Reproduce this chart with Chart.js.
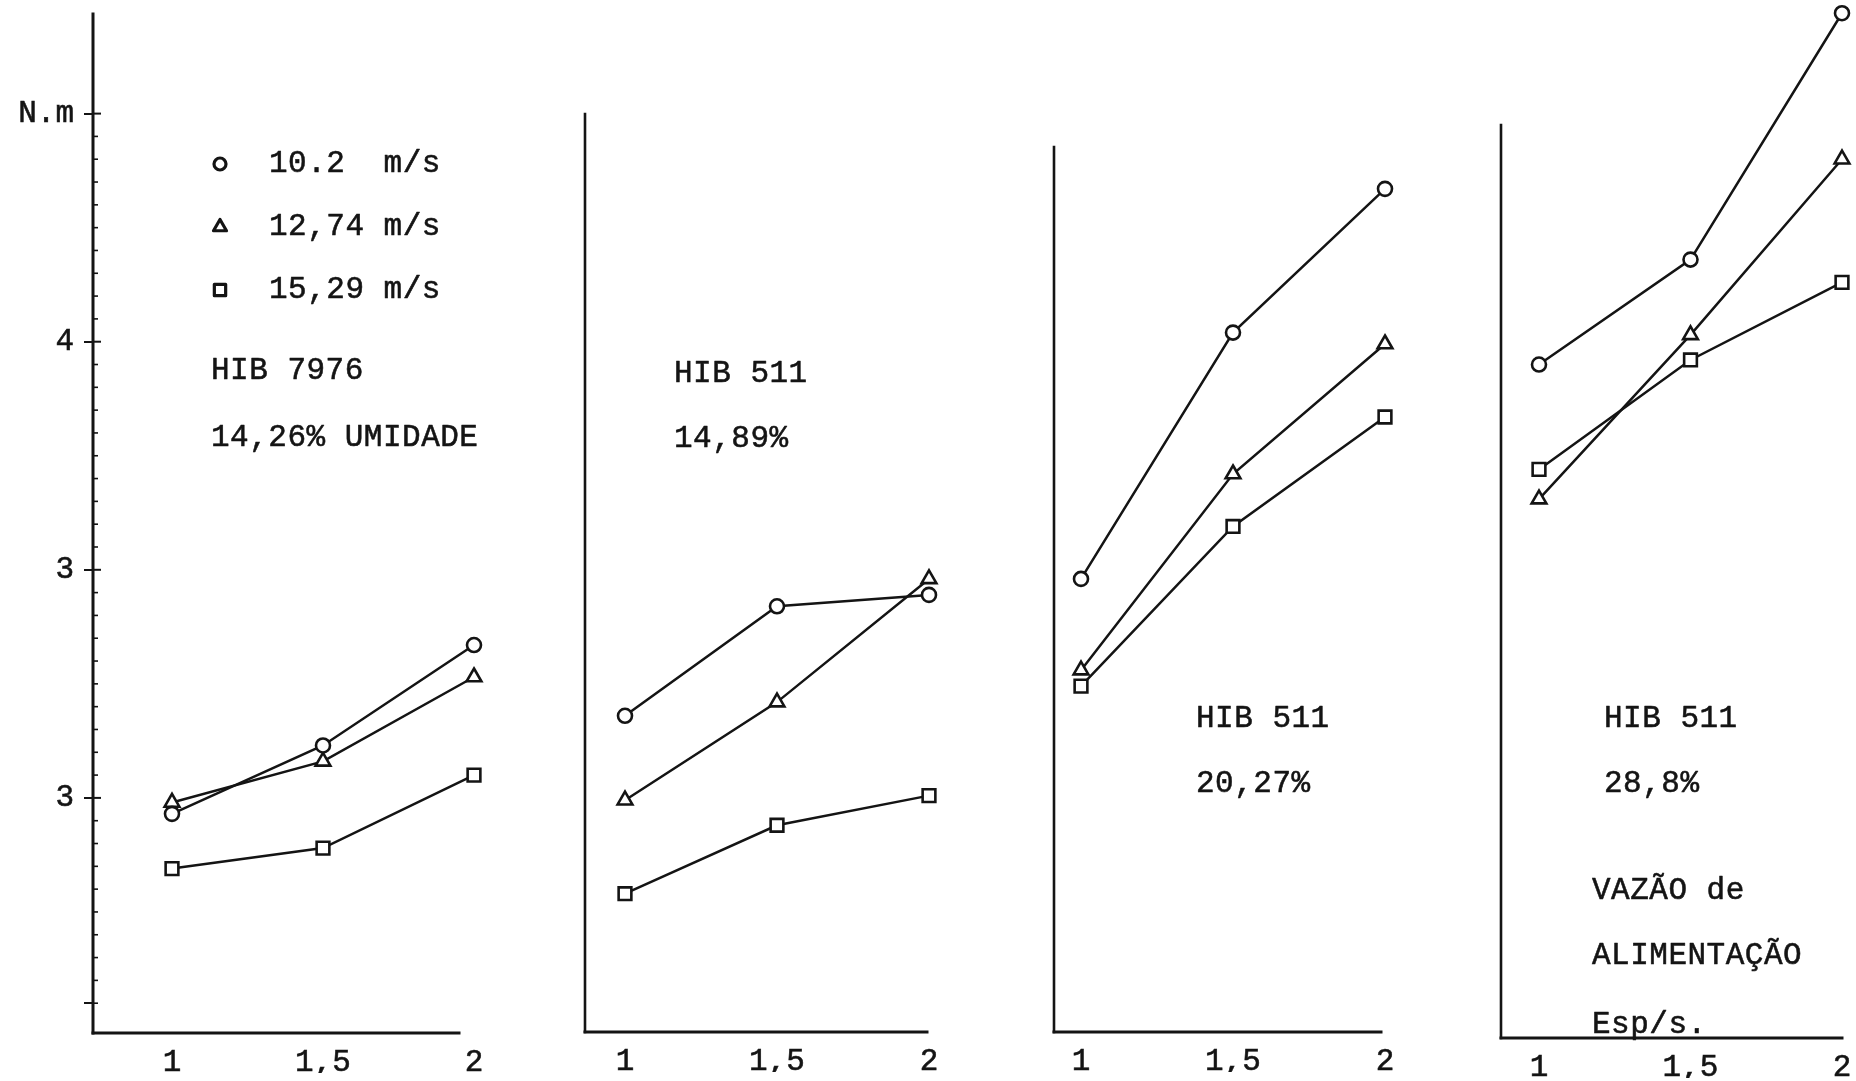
<!DOCTYPE html>
<html>
<head>
<meta charset="utf-8">
<title>Torque x vazão de alimentação</title>
<script src="https://cdn.jsdelivr.net/npm/chart.js@4/dist/chart.umd.min.js"></script>
<style>
  html, body { margin: 0; padding: 0; background: #fff; }
  #wrap { position: relative; width: 1856px; height: 1081px; overflow: hidden; background: #fff; }
  #wrap canvas { position: absolute; left: 0; top: 0; }
</style>
</head>
<body>
<div id="wrap">
  <canvas id="p1" width="1856" height="1081"></canvas>
  <canvas id="p2" width="1856" height="1081"></canvas>
  <canvas id="p3" width="1856" height="1081"></canvas>
  <canvas id="p4" width="1856" height="1081"></canvas>
</div>
<script>
// Feed rate (Esp/s) on the horizontal axis
const feedRates = [1, 1.5, 2];
const feedRateLabels = ['1', '1,5', '2'];

// Torque axis ticks (first panel only)
const torqueTicks = [5, 4, 3, 2, 1.1];
const torqueTickLabels = ['N.m', '4', '3', '3', ''];

// Air speeds
const speedLabels = ['10.2  m/s', '12,74 m/s', '15,29 m/s'];

// HIB 7976 - 14,26% umidade
const hib7976_u1426_v102  = [1.93, 2.23, 2.67];
const hib7976_u1426_v1274 = [1.98, 2.16, 2.53];
const hib7976_u1426_v1529 = [1.69, 1.78, 2.10];

// HIB 511 - 14,89%
const hib511_u1489_v102  = [2.36, 2.84, 2.89];
const hib511_u1489_v1274 = [1.99, 2.42, 2.96];
const hib511_u1489_v1529 = [1.58, 1.88, 2.01];

// HIB 511 - 20,27%
const hib511_u2027_v102  = [2.96, 4.04, 4.67];
const hib511_u2027_v1274 = [2.56, 3.42, 3.99];
const hib511_u2027_v1529 = [2.49, 3.19, 3.67];

// HIB 511 - 28,8%
const hib511_u288_v102  = [3.90, 4.36, 5.44];
const hib511_u288_v1274 = [3.31, 4.03, 4.80];
const hib511_u288_v1529 = [3.44, 3.92, 4.26];

// Panel captions
const notes1 = ['HIB 7976', '14,26% UMIDADE'];
const notes2 = ['HIB 511', '14,89%'];
const notes3 = ['HIB 511', '20,27%'];
const notes4 = ['HIB 511', '28,8%', 'VAZÃO de', 'ALIMENTAÇÃO', 'Esp/s.'];

// ---------------------------------------------------------------
// Layout
const W = 1856, H = 1081;
const Y_AXIS_W = 100, X_AXIS_H = 40;
const FONT = '"Liberation Mono", "DejaVu Sans Mono", monospace';
const FONT_SIZE = 31;
const TEXT_STROKE = 0.55;
const INK = '#141414';
// Chart.js keeps at least the point overflow (~11px) as padding on every side
const PLOT_TOP = 12;
const PLOT_RIGHT_PAD = 12;
const MIN_EDGE = 12;

// All panels share the same torque scale: the row of 5 N.m and the height of one unit
const ROW_5 = 113.6, UNIT_Y = 228.1;
const valueAtRow = row => 5 - (row - ROW_5) / UNIT_Y;

// Pixel frame of each panel: axis-line extents and the columns of feed rates 1 and 2
const frames = [
  { left: 93,   right: 459,  top: 14,  bottom: 1033, col1: 172,  col2: 474 },
  { left: 585,  right: 927,  top: 114, bottom: 1032, col1: 625,  col2: 929 },
  { left: 1054, right: 1381, top: 147, bottom: 1032, col1: 1081, col2: 1385 },
  { left: 1501, right: 1842, top: 125, bottom: 1038, col1: 1539, col2: 1842 },
];

// Caption placement (left edge, middle row of each line)
const notePlaces = [
  [[211, 371], [211, 438]],
  [[674, 374], [674, 439]],
  [[1196, 719], [1196, 784]],
  [[1604, 719], [1604, 784], [1592, 891], [1592, 956], [1592, 1025]],
];

const markerStyles = [
  { pointStyle: 'circle',   radius: 7 },
  { pointStyle: 'triangle', radius: 8.5 },
  { pointStyle: 'rect',     radius: 9 },
];

// Legend rows (marker column, text column, rows)
const legendPlace = { markerX: 220, textX: 269, rows: [164, 227, 290] };

// ---------------------------------------------------------------
// Draws the axis lines, captions, the legend and the small marks along the torque axis
const panelDecor = {
  id: 'panelDecor',
  afterDatasetsDraw(chart, args, opts) {
    const ctx = chart.ctx;
    const xs = chart.scales.x, ys = chart.scales.y;
    const x0 = xs.getPixelForValue(opts.xFrom);
    const x1 = xs.getPixelForValue(opts.xTo);
    const yTop = ys.getPixelForValue(opts.yTo);
    const yBot = ys.getPixelForValue(opts.yFrom);
    ctx.save();
    ctx.strokeStyle = INK;
    ctx.lineCap = 'square';

    // torque axis
    ctx.lineWidth = opts.yWidth;
    ctx.beginPath();
    ctx.moveTo(x0, yTop);
    ctx.lineTo(x0, yBot);
    ctx.stroke();

    // feed-rate axis
    ctx.lineWidth = 3;
    ctx.beginPath();
    ctx.moveTo(x0, yBot);
    ctx.lineTo(x1, yBot);
    ctx.stroke();

    if (opts.axisMarks) {
      ctx.lineCap = 'butt';
      for (let k = 11; k <= 50; k++) {
        const py = ys.getPixelForValue(k / 10);
        const major = k % 10 === 0;
        ctx.lineWidth = major ? 2 : 1.6;
        ctx.beginPath();
        ctx.moveTo(x0, py);
        ctx.lineTo(x0 + (major ? 8 : 5), py);
        ctx.stroke();
      }
    }

    ctx.fillStyle = INK;
    ctx.font = FONT_SIZE + 'px ' + FONT;
    ctx.letterSpacing = '0.5px';
    ctx.textAlign = 'left';
    ctx.textBaseline = 'middle';
    ctx.lineWidth = TEXT_STROKE;
    ctx.lineJoin = 'round';
    (opts.notes || []).forEach((t, i) => {
      const [x, y] = opts.places[i];
      ctx.fillText(t, x, y);
      ctx.strokeText(t, x, y);
    });

    if (opts.legend) {
      legendPlace.rows.forEach((row, i) => {
        ctx.fillStyle = '#fff';
        ctx.strokeStyle = INK;
        ctx.lineWidth = 3.2;
        Chart.helpers.drawPoint(ctx, {
          pointStyle: markerStyles[i].pointStyle,
          radius: markerStyles[i].radius - 1,
          rotation: 0,
          borderWidth: 3.2,
        }, legendPlace.markerX, row);
        ctx.fillStyle = INK;
        ctx.lineWidth = TEXT_STROKE;
        ctx.fillText(speedLabels[i], legendPlace.textX, row);
        ctx.strokeText(speedLabels[i], legendPlace.textX, row);
      });
    }
    ctx.restore();
  }
};

function datasetsFor(seriesList) {
  return seriesList.map((vals, i) => ({
    label: speedLabels[i],
    data: feedRates.map((x, j) => ({ x: x, y: vals[j] })),
    borderColor: INK,
    borderWidth: 2.5,
    tension: 0,
    fill: false,
    clip: false,
    pointStyle: markerStyles[i].pointStyle,
    pointRadius: markerStyles[i].radius,
    pointBorderWidth: 2.6,
    pointBorderColor: INK,
    pointBackgroundColor: '#fff',
  }));
}

function makePanel(canvasId, frame, seriesList, showTorqueTicks, notes, places, legend) {
  const unitX = frame.col2 - frame.col1;
  const colToValue = col => 1 + (col - frame.col1) / unitX;
  const plotRight = Math.min(frame.col2 + PLOT_RIGHT_PAD, W - MIN_EDGE);
  const xMin = colToValue(frame.left);
  const xMax = colToValue(plotRight);
  const yMax = valueAtRow(PLOT_TOP);
  const yMin = valueAtRow(frame.bottom);
  const tickFont = { family: FONT, size: FONT_SIZE };

  return new Chart(document.getElementById(canvasId), {
    type: 'line',
    data: { datasets: datasetsFor(seriesList) },
    plugins: [panelDecor],
    options: {
      responsive: false,
      animation: false,
      events: [],
      layout: {
        padding: {
          left: frame.left - Y_AXIS_W,
          right: W - plotRight,
          top: PLOT_TOP,
          bottom: H - frame.bottom - X_AXIS_H,
        }
      },
      plugins: {
        legend: { display: false },
        tooltip: { enabled: false },
        panelDecor: {
          notes: notes, places: places, legend: legend, axisMarks: showTorqueTicks,
          xFrom: xMin, xTo: colToValue(frame.right),
          yFrom: yMin, yTo: valueAtRow(frame.top),
          yWidth: showTorqueTicks ? 3 : 2.6,
        },
      },
      scales: {
        x: {
          type: 'linear',
          min: xMin,
          max: xMax,
          afterBuildTicks: s => { s.ticks = feedRates.map(v => ({ value: v })); },
          afterFit: s => { s.height = X_AXIS_H; s.paddingLeft = 0; s.paddingRight = 0; },
          ticks: {
            autoSkip: false,
            maxRotation: 0,
            padding: 11,
            color: INK,
            font: tickFont,
            textStrokeColor: INK,
            textStrokeWidth: TEXT_STROKE,
            callback: (v, i) => feedRateLabels[i],
          },
          grid: { display: false, drawTicks: false },
          border: { display: false },
        },
        y: {
          type: 'linear',
          min: yMin,
          max: yMax,
          afterBuildTicks: s => { s.ticks = showTorqueTicks ? torqueTicks.map(v => ({ value: v })) : []; },
          afterFit: s => { s.width = Y_AXIS_W; s.paddingTop = 0; s.paddingBottom = 0; },
          ticks: {
            display: showTorqueTicks,
            padding: 10,
            color: INK,
            font: tickFont,
            textStrokeColor: INK,
            textStrokeWidth: TEXT_STROKE,
            callback: (v, i) => torqueTickLabels[i],
          },
          grid: {
            display: showTorqueTicks,
            drawOnChartArea: false,
            drawTicks: true,
            tickLength: 9,
            color: INK,
            lineWidth: 2,
          },
          border: { display: false },
        },
      },
    },
  });
}

makePanel('p1', frames[0], [hib7976_u1426_v102, hib7976_u1426_v1274, hib7976_u1426_v1529], true,  notes1, notePlaces[0], true);
makePanel('p2', frames[1], [hib511_u1489_v102,  hib511_u1489_v1274,  hib511_u1489_v1529],  false, notes2, notePlaces[1], false);
makePanel('p3', frames[2], [hib511_u2027_v102,  hib511_u2027_v1274,  hib511_u2027_v1529],  false, notes3, notePlaces[2], false);
makePanel('p4', frames[3], [hib511_u288_v102,   hib511_u288_v1274,   hib511_u288_v1529],   false, notes4, notePlaces[3], false);
</script>
</body>
</html>
